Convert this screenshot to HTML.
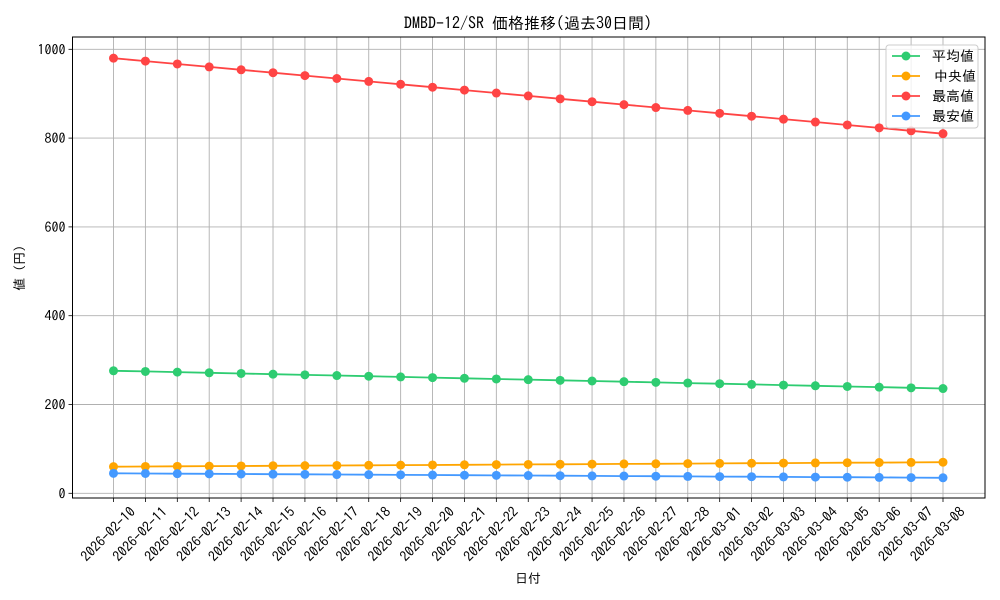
<!DOCTYPE html>
<html><head><meta charset="utf-8"><style>
html,body{margin:0;padding:0;background:#fff;}
svg{display:block;font-family:"IPAGothic","Noto Sans CJK JP",sans-serif;}
</style></head><body>
<svg id="s" width="1000" height="600" xmlns="http://www.w3.org/2000/svg"></svg>
<script>
const s=document.getElementById('s');
let h='';
const L=72.5,R=985,T=37,B=498;
const x0=113.5,dx=(943-113.5)/26;
const yv=v=>493.3-v*0.4440;
const dates=[];
for(let i=0;i<27;i++){let d=new Date(Date.UTC(2026,1,10+i));dates.push(d.toISOString().slice(0,10));}
for(let i=0;i<27;i++){const x=x0+i*dx;h+=`<line x1="${x}" y1="${T}" x2="${x}" y2="${B}" stroke="#b0b0b0" stroke-width="0.9"/>`;
h+=`<line x1="${x}" y1="${B}" x2="${x}" y2="${B+4}" stroke="#000" stroke-width="0.8"/>`;
h+=`<text transform="translate(${x+16},${B+8}) rotate(-45)" text-anchor="end" font-size="14" dominant-baseline="hanging">${dates[i]}</text>`;}
for(let v=0;v<=1000;v+=200){const y=yv(v);h+=`<line x1="${L}" y1="${y}" x2="${R}" y2="${y}" stroke="#b0b0b0" stroke-width="0.9"/>`;
h+=`<line x1="${L-4}" y1="${y}" x2="${L}" y2="${y}" stroke="#000" stroke-width="0.8"/>`;
h+=`<text x="${L-7}" y="${y+5}" text-anchor="end" font-size="14">${v}</text>`;}
const ser=[["#2ecc71",276,236],["#ffa500",60,70],["#ff4444",980,810],["#4499ff",45,35]];
for(const [c,a,b] of ser){let p='';let m='';for(let i=0;i<27;i++){const x=x0+i*dx,y=yv(a+(b-a)*i/26);p+=(i?'L':'M')+x.toFixed(1)+','+y.toFixed(1);m+=`<circle cx="${x}" cy="${y}" r="4.5" fill="${c}"/>`;}
h+=`<path d="${p}" fill="none" stroke="${c}" stroke-width="1.8"/>`+m;}
h+=`<rect x="${L}" y="${T}" width="${R-L}" height="${B-T}" fill="none" stroke="#000" stroke-width="1"/>`;
h+=`<rect x="886" y="45" width="92" height="83" rx="3" fill="#fff" fill-opacity="0.8" stroke="#ccc"/>`;
const names=["平均値","中央値","最高値","最安値"];
for(let i=0;i<4;i++){const y=56+i*20;h+=`<line x1="892" y1="${y}" x2="920" y2="${y}" stroke="${ser[i][0]}" stroke-width="1.8"/><circle cx="906" cy="${y}" r="4.5" fill="${ser[i][0]}"/><text x="${i==1?934:932}" y="${y+5}" font-size="14">${names[i]}</text>`;}
h+=`<text x="528" y="29" text-anchor="middle" font-size="16">DMBD-12/SR 価格推移(過去30日間)</text>`;
h+=`<text x="528" y="583" text-anchor="middle" font-size="13">日付</text>`;
h+=`<text transform="translate(24,268) rotate(-90)" text-anchor="middle" font-size="13">値 (円)</text>`;
s.innerHTML=h;
</script>
</body></html>
